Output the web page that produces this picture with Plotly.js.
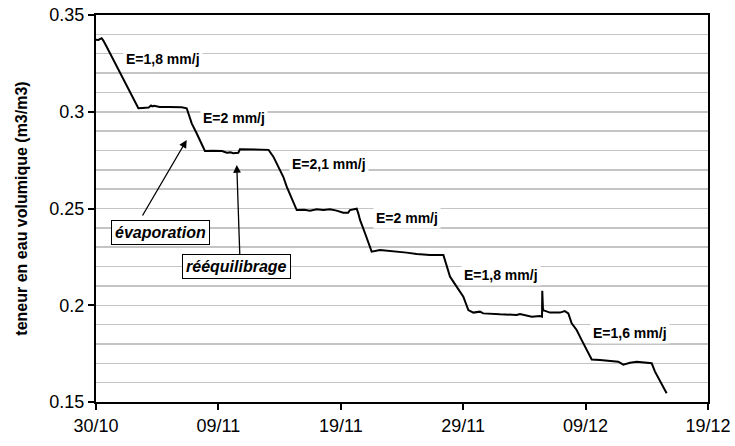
<!DOCTYPE html>
<html>
<head>
<meta charset="utf-8">
<script src="https://cdn.plot.ly/plotly-3.0.1.min.js"></script>
<style>html,body{margin:0;padding:0;background:#fff;}#chart{width:735px;height:446px;}</style>
</head>
<body>
<div id="chart"></div>
<script>
// Days since 30/10
var days = [0, 0.19, 0.46, 0.6, 0.87, 1.2, 1.69, 2.1, 2.51, 3.0, 3.46,
  3.8, 4.3, 4.5, 4.6, 4.75, 5.2, 6.0, 7.0, 7.41,
  7.54, 7.82, 8.22, 8.55, 8.9,
  9.5, 10.3, 10.68, 11.0, 11.2, 11.5, 11.63, 11.76, 12.5, 13.5, 14.1,
  14.49, 15.3, 15.58, 16.12, 16.4,
  17.0, 17.48, 18.03, 18.57, 19.12, 19.66, 20.2, 20.6, 20.75, 21.3,
  21.43, 21.57, 21.98, 22.25, 22.52,
  23.2, 24.02, 24.57, 25.38, 26.2, 27.29, 28.38,
  28.51, 28.92, 29.19, 29.47, 30.01, 30.42,
  30.83, 31.37, 31.64, 33.0, 34.37, 34.64, 35.6, 36.27, 36.44, 36.46, 36.5, 36.52, 37.09, 37.9, 38.3, 38.59,
  38.86, 39.27, 39.68, 40.09, 40.5,
  41.18, 41.99, 42.67, 43.08, 43.63, 44.18, 44.99, 45.4,
  45.67, 46.08, 46.62];
var teneur = [0.3372, 0.3371, 0.338, 0.3368, 0.3336, 0.3295, 0.3233, 0.318, 0.313, 0.3075, 0.3018,
  0.302, 0.3022, 0.3032, 0.3028, 0.3031, 0.3025, 0.3024, 0.3023, 0.3018,
  0.2992, 0.294, 0.2889, 0.2845, 0.2797,
  0.2798, 0.2797, 0.2788, 0.279, 0.2786, 0.279, 0.2788, 0.2806, 0.2805, 0.2804, 0.2803,
  0.2768, 0.2664, 0.2613, 0.2527, 0.2492,
  0.2493, 0.2489, 0.2496, 0.2492, 0.2496, 0.2489, 0.2478, 0.2478, 0.2492, 0.2499,
  0.2475, 0.2441, 0.2372, 0.232, 0.2277,
  0.2286, 0.2282, 0.2277, 0.2272, 0.2265, 0.226, 0.226,
  0.2234, 0.2148, 0.2122, 0.2096, 0.2044, 0.1975,
  0.1962, 0.1967, 0.1958, 0.1953, 0.195, 0.1955, 0.1941, 0.1944, 0.1941, 0.2075, 0.198, 0.1975, 0.1962, 0.1962, 0.197, 0.1958,
  0.1907, 0.1872, 0.182, 0.1769, 0.172,
  0.1717, 0.1712, 0.1708, 0.1693, 0.1703, 0.1708, 0.1703, 0.17,
  0.1657, 0.1605, 0.1545];

var xTickVals = [0, 10, 20, 30, 40, 50];
var xTickText = ['30/10', '09/11', '19/11', '29/11', '09/12', '19/12'];
var yTickVals = [0.15, 0.2, 0.25, 0.3, 0.35];
var yTickText = ['0.15', '0.2', '0.25', '0.3', '0.35'];

var rateLabels = ['E=1,8 mm/j', 'E=2 mm/j', 'E=2,1 mm/j', 'E=2 mm/j', 'E=1,8 mm/j', 'E=1,6 mm/j'];
var rateX = [5.45, 11.3, 19.0, 25.4, 33.1, 43.6];
var rateY = [0.3275, 0.2970, 0.2731, 0.2452, 0.2157, 0.1855];

var FONT = 'Arial, "Liberation Sans", sans-serif';

var annotations = rateLabels.map(function (t, i) {
  return {x: rateX[i], y: rateY[i], xref: 'x', yref: 'y', text: '<b>' + t + '</b>',
    showarrow: false, bgcolor: '#ffffff', borderpad: 2,
    font: {family: FONT, size: 14, color: '#000'}};
});

// arrows
annotations.push({x: 7.41, y: 0.2854, ax: 3.73, ay: 0.2456, xref: 'x', yref: 'y', axref: 'x', ayref: 'y',
  text: '', showarrow: true, arrowhead: 2, arrowsize: 1.2, arrowwidth: 1.3, arrowcolor: '#000'});
annotations.push({x: 11.5, y: 0.2725, ax: 11.76, ay: 0.2239, xref: 'x', yref: 'y', axref: 'x', ayref: 'y',
  text: '', showarrow: true, arrowhead: 2, arrowsize: 1.2, arrowwidth: 1.3, arrowcolor: '#000'});
// boxed labels
annotations.push({x: 5.3, y: 0.2374, xref: 'x', yref: 'y', text: '<b><i>évaporation</i></b>', showarrow: false,
  bgcolor: '#ffffff', bordercolor: '#000', borderwidth: 1, borderpad: 3,
  font: {family: FONT, size: 16, color: '#000'}});
annotations.push({x: 11.44, y: 0.2199, xref: 'x', yref: 'y', text: '<b><i>rééquilibrage</i></b>', showarrow: false,
  bgcolor: '#ffffff', bordercolor: '#000', borderwidth: 1, borderpad: 3,
  font: {family: FONT, size: 16, color: '#000'}});

var trace = {x: days, y: teneur, type: 'scatter', mode: 'lines',
  line: {color: '#000', width: 2}, hoverinfo: 'skip'};

var layout = {
  width: 735, height: 446,
  margin: {l: 96, r: 27, t: 15, b: 44},
  paper_bgcolor: '#fff', plot_bgcolor: '#fff',
  showlegend: false,
  font: {family: FONT, color: '#000'},
  xaxis: {range: [0, 50], tickvals: xTickVals, ticktext: xTickText, showgrid: false, zeroline: false,
    showline: true, linecolor: '#000', linewidth: 2, mirror: true,
    ticks: 'outside', ticklen: 6, tickwidth: 2, tickcolor: '#000',
    tickfont: {family: FONT, size: 18, color: '#000'}},
  yaxis: {range: [0.15, 0.35], tickvals: yTickVals, ticktext: yTickText, showgrid: true, gridcolor: '#c4c4c4', gridwidth: 1.5,
    zeroline: false, showline: true, linecolor: '#000', linewidth: 2, mirror: true,
    ticks: 'outside', ticklen: 6, tickwidth: 2, tickcolor: '#000',
    tickfont: {family: FONT, size: 18, color: '#000'},
    minor: {dtick: 0.01, tick0: 0.15, showgrid: true, gridcolor: '#c4c4c4', gridwidth: 1.5, ticks: ''},
    title: {text: '<b>teneur en eau volumique (m3/m3)</b>', font: {family: FONT, size: 16, color: '#000'}, standoff: 18}},
  annotations: annotations
};

Plotly.newPlot('chart', [trace], layout, {staticPlot: true, displayModeBar: false});
</script>
</body>
</html>
